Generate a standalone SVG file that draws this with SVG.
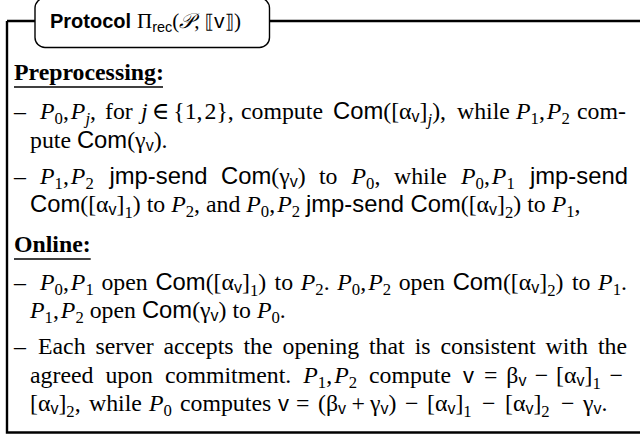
<svg xmlns="http://www.w3.org/2000/svg" width="640" height="438" viewBox="0 0 640 438">
<style>
.t{font-family:'Liberation Serif','DejaVu Serif',serif;font-size:23.8px;fill:#000}
.i{font-style:italic}
.sf{font-family:'Liberation Sans',Arial,sans-serif}
.vv{font-family:'Liberation Sans',Arial,sans-serif;font-size:22px}
.b{font-weight:bold}
.d5{font-size:16.7px;baseline-shift:-5px}
.d7{font-size:16.7px;baseline-shift:-6px}
.v{font-family:'Liberation Sans',Arial,sans-serif;font-size:16px;baseline-shift:-3px}
.dj{font-family:'DejaVu Sans',sans-serif}
.frame{fill:none;stroke:#000;stroke-width:2.4}
.ul{stroke:#000;stroke-width:1.3}
</style>
<rect width="640" height="438" fill="#fff"/>
<g id="frame">
<path class="frame" d="M7,21 V432.5 H640 M7,21 H36 M269,21 H640"/>
</g>
<g id="title">
<rect x="35" y="-2" width="234.5" height="49.5" rx="10" ry="10" fill="#fff" stroke="#000" stroke-width="1.4"/>
<text class="t" y="28" style="font-size:21px"><tspan x="50" class="sf b" style="font-size:20px">Protocol</tspan>
<tspan x="137">Π</tspan><tspan class="sf" style="font-size:14.5px;baseline-shift:-4px">rec</tspan><tspan>(</tspan><tspan class="i">𝒫</tspan><tspan>,</tspan><tspan dx="5" class="dj" style="font-size:19px">⟦</tspan><tspan class="sf">v</tspan><tspan class="dj" style="font-size:19px">⟧</tspan><tspan>)</tspan></text>
</g>
<g id="preprocessing">
<text class="t b" x="14" y="80">Preprocessing:</text>
<line class="ul" x1="14" y1="87" x2="163" y2="87"/>
<text class="t" y="119"><tspan x="14">–</tspan>
<tspan x="40" class="i">P</tspan><tspan class="d5">0</tspan><tspan>,</tspan><tspan dx="2" class="i">P</tspan><tspan class="d5 i">j</tspan><tspan>,</tspan>
<tspan x="105">for</tspan>
<tspan x="141" class="i">j</tspan><tspan dx="4">∈</tspan><tspan dx="4">{1,</tspan><tspan dx="2">2},</tspan>
<tspan x="241">compute</tspan>
<tspan x="333" class="sf">Com</tspan><tspan>([α</tspan><tspan class="v">v</tspan><tspan>]</tspan><tspan class="d7 i">j</tspan><tspan>),</tspan>
<tspan x="457">while</tspan>
<tspan x="516" class="i">P</tspan><tspan class="d5">1</tspan><tspan>,</tspan><tspan dx="2" class="i">P</tspan><tspan class="d5">2</tspan>
<tspan x="577">com-</tspan></text>
<text class="t" y="148"><tspan x="30">pute </tspan><tspan class="sf">Com</tspan><tspan>(γ</tspan><tspan class="v">v</tspan><tspan>).</tspan></text>
<text class="t" y="183.5"><tspan x="14">–</tspan>
<tspan x="40" class="i">P</tspan><tspan class="d5">1</tspan><tspan>,</tspan><tspan dx="2" class="i">P</tspan><tspan class="d5">2</tspan>
<tspan x="109.5" class="sf">jmp-send</tspan>
<tspan x="221" class="sf">Com</tspan><tspan>(γ</tspan><tspan class="v">v</tspan><tspan>)</tspan>
<tspan x="319">to</tspan>
<tspan x="351.5" class="i">P</tspan><tspan class="d5">0</tspan><tspan>,</tspan>
<tspan x="394">while</tspan>
<tspan x="461" class="i">P</tspan><tspan class="d5">0</tspan><tspan>,</tspan><tspan dx="2" class="i">P</tspan><tspan class="d5">1</tspan>
<tspan x="530" class="sf">jmp-send</tspan></text>
<text class="t" y="212"><tspan x="30" class="sf">Com</tspan><tspan>([α</tspan><tspan class="v">v</tspan><tspan>]</tspan><tspan class="d7">1</tspan><tspan>) to </tspan><tspan class="i">P</tspan><tspan class="d5">2</tspan><tspan>, and </tspan><tspan class="i">P</tspan><tspan class="d5">0</tspan><tspan>,</tspan><tspan dx="2" class="i">P</tspan><tspan class="d5">2</tspan><tspan> </tspan><tspan class="sf">jmp-send Com</tspan><tspan>([α</tspan><tspan class="v">v</tspan><tspan>]</tspan><tspan class="d7">2</tspan><tspan>) to </tspan><tspan class="i">P</tspan><tspan class="d5">1</tspan><tspan>,</tspan></text>
</g>
<g id="online">
<text class="t b" x="14" y="251.5">Online:</text>
<line class="ul" x1="14" y1="259" x2="90.7" y2="259"/>
<text class="t" y="289.5"><tspan x="14">–</tspan>
<tspan x="40" class="i">P</tspan><tspan class="d5">0</tspan><tspan>,</tspan><tspan dx="2" class="i">P</tspan><tspan class="d5">1</tspan>
<tspan x="101.4">open</tspan>
<tspan x="155.4" class="sf">Com</tspan><tspan>([α</tspan><tspan class="v">v</tspan><tspan>]</tspan><tspan class="d7">1</tspan><tspan>)</tspan>
<tspan x="274.6">to</tspan>
<tspan x="300.8" class="i">P</tspan><tspan class="d5">2</tspan><tspan>.</tspan>
<tspan x="337.3" class="i">P</tspan><tspan class="d5">0</tspan><tspan>,</tspan><tspan dx="2" class="i">P</tspan><tspan class="d5">2</tspan>
<tspan x="398.7">open</tspan>
<tspan x="452.7" class="sf">Com</tspan><tspan>([α</tspan><tspan class="v">v</tspan><tspan>]</tspan><tspan class="d7">2</tspan><tspan>)</tspan>
<tspan x="571.9">to</tspan>
<tspan x="598.1" class="i">P</tspan><tspan class="d5">1</tspan><tspan>.</tspan></text>
<text class="t" y="318"><tspan x="30" class="i">P</tspan><tspan class="d5">1</tspan><tspan>,</tspan><tspan dx="2" class="i">P</tspan><tspan class="d5">2</tspan><tspan> open </tspan><tspan class="sf">Com</tspan><tspan>(γ</tspan><tspan class="v">v</tspan><tspan>) to </tspan><tspan class="i">P</tspan><tspan class="d5">0</tspan><tspan>.</tspan></text>
<text class="t" y="354"><tspan x="14">–</tspan>
<tspan x="38">Each</tspan>
<tspan x="95.5">server</tspan>
<tspan x="163.5">accepts</tspan>
<tspan x="243.5">the</tspan>
<tspan x="282.5">opening</tspan>
<tspan x="369">that</tspan>
<tspan x="414.7">is</tspan>
<tspan x="440.5">consistent</tspan>
<tspan x="545.6">with</tspan>
<tspan x="598">the</tspan></text>
<text class="t" y="382.5"><tspan x="30">agreed</tspan>
<tspan x="105.4">upon</tspan>
<tspan x="165">commitment.</tspan>
<tspan x="303.3" class="i">P</tspan><tspan class="d5">1</tspan><tspan>,</tspan><tspan dx="2" class="i">P</tspan><tspan class="d5">2</tspan>
<tspan x="369">compute</tspan>
<tspan x="463" class="vv">v</tspan>
<tspan x="483.9">=</tspan>
<tspan x="506.3">β</tspan><tspan class="v">v</tspan>
<tspan x="534.7">−</tspan>
<tspan x="556.1">[α</tspan><tspan class="v">v</tspan><tspan>]</tspan><tspan class="d7">1</tspan>
<tspan x="609.6">−</tspan></text>
<text class="t" y="411"><tspan x="30">[α</tspan><tspan class="v">v</tspan><tspan>]</tspan><tspan class="d7">2</tspan><tspan>,</tspan>
<tspan x="89">while</tspan>
<tspan x="149" class="i">P</tspan><tspan class="d5">0</tspan>
<tspan x="180">computes</tspan>
<tspan x="278" class="vv">v</tspan>
<tspan x="296">=</tspan>
<tspan x="318">(β</tspan><tspan class="v">v</tspan>
<tspan x="351.5">+</tspan>
<tspan x="370">γ</tspan><tspan class="v">v</tspan><tspan>)</tspan>
<tspan x="405">−</tspan>
<tspan x="427">[α</tspan><tspan class="v">v</tspan><tspan>]</tspan><tspan class="d7">1</tspan>
<tspan x="482">−</tspan>
<tspan x="505">[α</tspan><tspan class="v">v</tspan><tspan>]</tspan><tspan class="d7">2</tspan>
<tspan x="561">−</tspan>
<tspan x="583">γ</tspan><tspan class="v">v</tspan><tspan>.</tspan></text>
</g>
</svg>
